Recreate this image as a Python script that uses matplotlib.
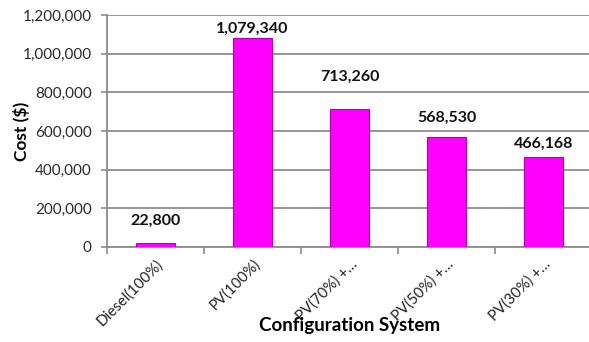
import matplotlib
matplotlib.use("Agg")
import matplotlib.pyplot as plt
from matplotlib.ticker import FuncFormatter, FixedLocator

categories = ["Diesel(100%)", "PV(100%)", "PV(70%) +\u2026", "PV(50%) +\u2026", "PV(30%) +\u2026"]
costs = [22800, 1079340, 713260, 568530, 466168]
y_ticks = [0, 200000, 400000, 600000, 800000, 1000000, 1200000]

# vertical gap (pixels) between each value label and its bar
label_gap_px = [15, 3, 25, 12, 6]

plt.rcParams['font.family'] = ['Lato', 'DejaVu Sans']

W, H = 589, 342
fig = plt.figure(figsize=(W / 100, H / 100), dpi=100)
left, right, bottom, top = 107, 592, 247, 15
ax = fig.add_axes([left / W, (H - bottom) / H, (right - left) / W, (bottom - top) / H])

x = list(range(len(categories)))
bars = ax.bar(x, costs, width=0.41, color="#FF00FF", edgecolor="#B000B0",
              linewidth=0.8, zorder=3)

for xi, v, g in zip(x, costs, label_gap_px):
    ax.annotate(f"{v:,}", (xi, v), xytext=(0, g), textcoords="offset pixels",
                ha="center", va="bottom", fontsize=11.5, fontweight="bold",
                color="#111111")

ax.set_xlim(-0.5, len(categories) - 0.5)
ax.set_ylim(0, 1200000)
ax.set_yticks(y_ticks)
ax.yaxis.set_major_formatter(FuncFormatter(lambda v, p: f"{int(v):,}"))
ax.yaxis.grid(True, color="#8C8C8C", linewidth=1.3, zorder=0)
ax.set_axisbelow(True)

ax.set_xticks(x)
ax.set_xticklabels(categories, rotation=45, ha="right", rotation_mode="anchor",
                   fontsize=10.8, color="#222222")
ax.tick_params(axis="x", length=0, pad=7)
ax.xaxis.set_minor_locator(FixedLocator([i - 0.5 for i in range(len(categories) + 1)]))
ax.tick_params(axis="x", which="minor", length=5, width=1.2, color="#8C8C8C")
ax.tick_params(axis="y", length=4, width=1.2, color="#8C8C8C", labelsize=11,
               labelcolor="#2a2a2a", pad=7)

for s in ["top", "right"]:
    ax.spines[s].set_visible(False)
for s in ["left", "bottom"]:
    ax.spines[s].set_color("#8C8C8C")
    ax.spines[s].set_linewidth(1.3)

fig.text(22 / W, 1 - 131 / H, "Cost ($)", ha="center", va="center", rotation=90,
         fontsize=12.5, fontweight="bold")
fig.text(350 / W, 1 - 326 / H, "Configuration System", ha="center", va="center",
         fontsize=13.5, fontweight="bold")

fig.savefig("out.png", dpi=100)
